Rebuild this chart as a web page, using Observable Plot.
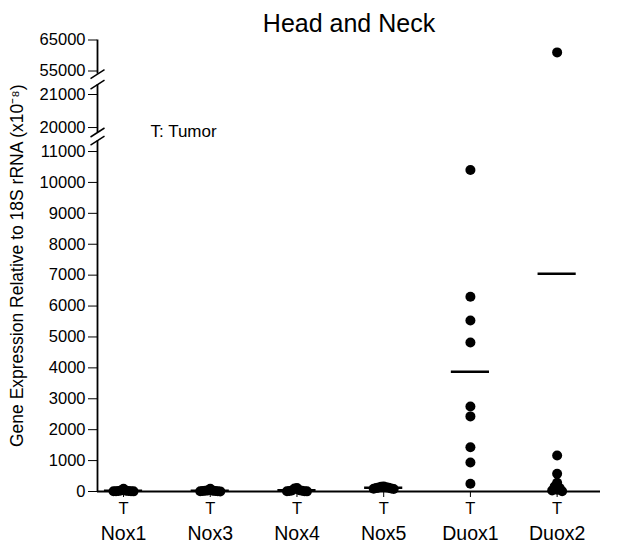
<!DOCTYPE html>
<html><head><meta charset="utf-8">
<script src="https://cdn.jsdelivr.net/npm/d3@7"></script>
<script src="https://cdn.jsdelivr.net/npm/@observablehq/plot@0.6"></script>
<style>body{margin:0;background:#fff}</style>
</head><body><div id="chart"></div>
<script>
// ---- data ----
const title = "Head and Neck";
const yLabel = "Gene Expression Relative to 18S rRNA (x10⁻⁸)";
const annotation = "T: Tumor";
const tickLabel = "T";
const categories = ["Nox1", "Nox3", "Nox4", "Nox5", "Duox1", "Duox2"];
const nox1 = [90, 30, 25, 20, 15, 12, 10, 8, 5];
const nox3 = [85, 35, 28, 22, 18, 14, 10, 7, 4];
const nox4 = [110, 95, 40, 30, 22, 16, 12, 8, 5];
const nox5 = [160, 150, 140, 130, 120, 110, 100, 90, 80];
const duox1 = [10400, 6300, 5530, 4820, 2750, 2430, 1430, 940, 250];
const duox2 = [61000, 1165, 573, 280, 160, 110, 60, 30, 10];
const series = [nox1, nox3, nox4, nox5, duox1, duox2];
const yTicks = [0, 1000, 2000, 3000, 4000, 5000, 6000, 7000, 8000, 9000, 10000, 11000, 20000, 21000, 55000, 65000];
const yBreakDomain = [0, 11350, 19850, 21300, 54000, 65000];
const axisSegments = [[0, 11350], [19850, 21300], [54000, 65000]];
const breakEnds = [11350, 19850, 21300, 54000];

// ---- layout ----
const W = 617, H = 546, mL = 97, mR = 17, mT = 39.5, mB = 55;
const base = H - mB;
// pixel positions of the break points of the broken axis
const yPx = d3.scaleLinear(yBreakDomain, [base, 140.2, 132, 84.1, 73.6, mT]);
const yTransform = v => base - yPx(v);   // piecewise-linear broken axis
const yInverse = t => Math.round(yPx.invert(base - t));
const xDomain = [-0.3, 5.5];
const pxPerUnit = (W - mL - mR) / (xDomain[1] - xDomain[0]);

// horizontal spreading of overlapping points (scatter dot plot)
function spread(values, step, minDy) {
  const order = d3.range(values.length).sort((a, b) => values[b] - values[a]);
  const placed = [], off = new Array(values.length);
  for (const i of order) {
    const py = yPx(values[i]);
    for (let k = 0; k < 100; k++) {
      const cand = k === 0 ? 0 : (k % 2 ? -1 : 1) * Math.ceil(k / 2) * step;
      if (placed.every(p => Math.abs(p.y - py) >= minDy || Math.abs(p.x - cand) >= step * 0.99)) {
        off[i] = cand; placed.push({x: cand, y: py}); break;
      }
    }
  }
  return off;
}

const points = series.flatMap((vals, i) => {
  const off = spread(vals, 2.5, 6);
  return vals.map((v, j) => ({x: i + off[j] / pxPerUnit, y: v}));
});
const groups = series.map((vals, i) => ({i, mean: d3.mean(vals)}));

const slash = {draw(ctx) { ctx.moveTo(-7, 4.5); ctx.lineTo(7, -4.5); }};

const chart = Plot.plot({
  width: W, height: H,
  marginLeft: mL, marginRight: mR, marginTop: mT, marginBottom: mB,
  style: {fontFamily: "Liberation Sans, Arial, sans-serif", fontSize: "16.5px", color: "black", background: "white"},
  x: {domain: xDomain, ticks: d3.range(categories.length), tickFormat: () => tickLabel, tickSize: 6, tickPadding: 5, label: null},
  y: {transform: yTransform, domain: [0, base - mT], ticks: yTicks.map(yTransform), tickFormat: t => String(yInverse(t)), tickSize: 9, tickPadding: 3, label: null},
  marks: [
    Plot.ruleX(axisSegments, {x: xDomain[0], y1: d => d[0], y2: d => d[1], strokeWidth: 1.8}),
    Plot.dot(breakEnds, {x: xDomain[0], y: d => d, symbol: slash, r: 5, fill: "none", stroke: "black", strokeWidth: 1.5}),
    Plot.ruleY([0], {strokeWidth: 2}),
    Plot.dot(points, {x: "x", y: "y", r: 5, fill: "black", stroke: "none"}),
    Plot.ruleY(groups, {x1: d => d.i - 0.22, x2: d => d.i + 0.22, y: "mean", strokeWidth: 2.5}),
    Plot.text(categories, {x: (d, i) => i, frameAnchor: "bottom", lineAnchor: "top", dy: 35, fontSize: 19.5}),
    Plot.text([annotation], {x: 0, y: 20000, textAnchor: "start", lineAnchor: "middle", dx: 27, dy: 4, fontSize: 17}),
    Plot.text([yLabel], {frameAnchor: "left", textAnchor: "middle", lineAnchor: "middle", rotate: -90, dx: -80, fontSize: 17.5}),
    Plot.text([title], {frameAnchor: "top", textAnchor: "middle", lineAnchor: "middle", dy: -16, fontSize: 25})
  ]
});
document.getElementById("chart").appendChild(chart);
</script>
</body></html>
